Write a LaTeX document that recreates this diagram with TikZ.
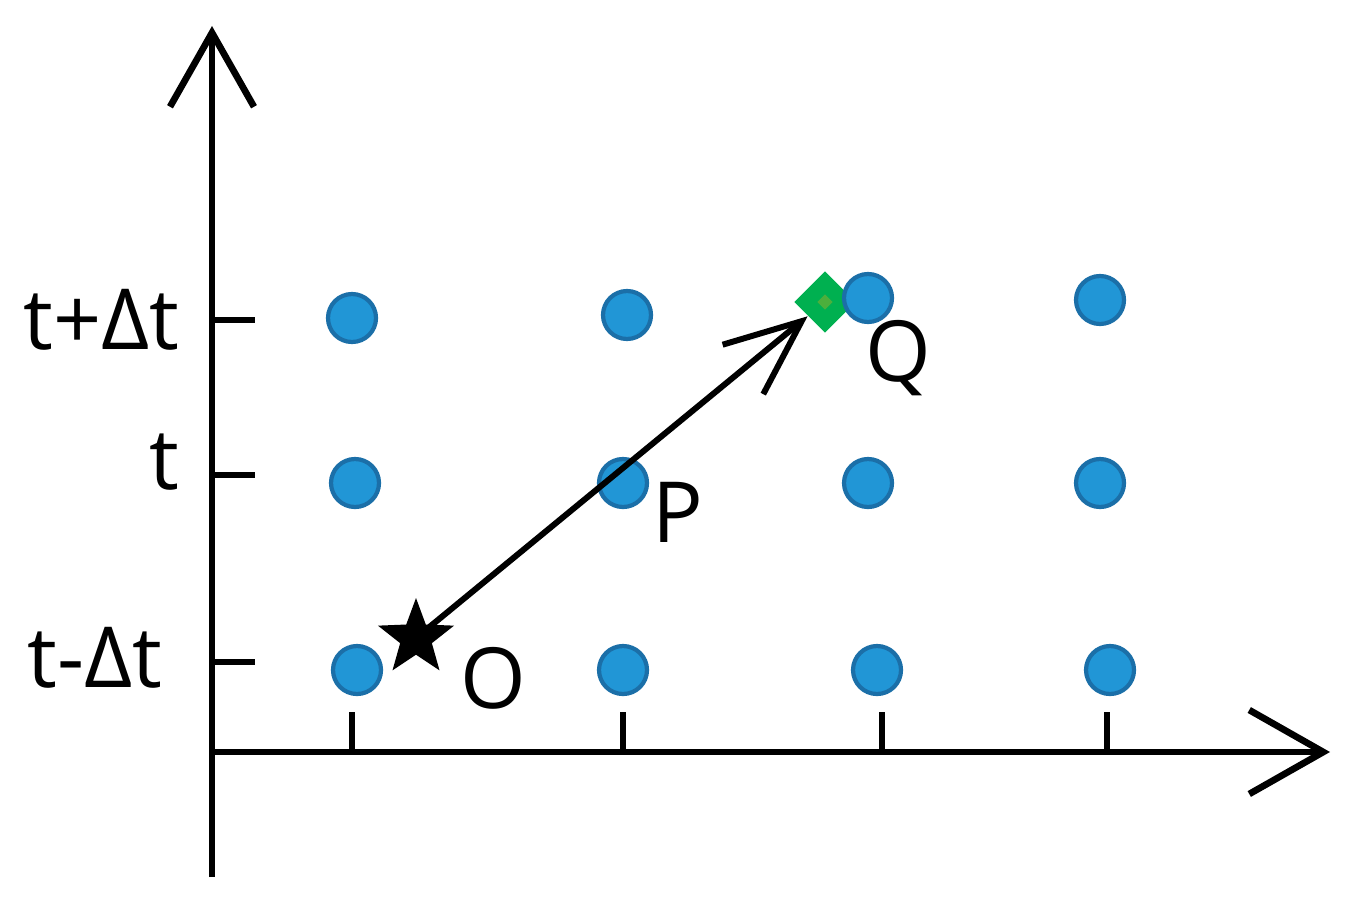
\documentclass[tikz,border=0pt]{standalone}
\usepackage{fontspec}
\setmainfont{Open Sans}
\usetikzlibrary{arrows.meta, shapes.geometric}
\definecolor{dotblue}{HTML}{2196D6}
\definecolor{dotedge}{HTML}{1B6FA8}
\definecolor{gemgreen}{HTML}{00B050}
\definecolor{gemcore}{HTML}{4CAF3C}
\tikzset{
  axisline/.style={line width=1.9pt, -{Straight Barb[length=7.4mm, width=8.4mm]}},
  tickmark/.style={line width=1.9pt},
  dot/.style={circle, fill=dotblue, draw=dotedge, line width=1.2pt, minimum size=4.8mm, inner sep=0pt},
  lbl/.style={font=\fontsize{24}{28}\selectfont, inner sep=0pt},
}
\begin{document}
\begin{tikzpicture}[x=0.1mm, y=-0.1mm, line join=round]
\useasboundingbox (0,0) rectangle (1351,903);

% Axes
\coordinate (origin) at (212,752);
\coordinate (ybottom) at (212,877);
\coordinate (ytop) at (212,26);
\coordinate (xleft) at (212,752);
\coordinate (xright) at (1330,752);
\draw[axisline] (ybottom) -- (ytop);
\draw[axisline] (xleft) -- (xright);

% Ticks on the time axis, with their labels
\foreach \ty in {320,475,662}
  \draw[tickmark] (212,\ty) -- (255,\ty);
\node[lbl, anchor=east] (tplus) at (180,320) {t+Δt};
\node[lbl, anchor=east] (tnow) at (180,462) {t};
\node[lbl, anchor=east] (tminus) at (163,658) {t-Δt};

% Ticks on the horizontal axis
\foreach \tx in {352,623,882,1107}
  \draw[tickmark] (\tx,712) -- (\tx,752);

% Target point
\node[diamond, aspect=1, fill=gemgreen, minimum size=6.2mm, inner sep=0pt] (gem) at (825,302) {};
\node[diamond, aspect=1, fill=gemcore, minimum size=1.6mm, inner sep=0pt] at (gem.center) {};

% Grid of samples
\foreach \name/\px/\py in {a1/352/318, a2/627/315, a3/868/298, a4/1100/300,
                           b1/355/483, b2/623/483, b3/868/483, b4/1100/483,
                           c1/357/670, c2/623/670, c3/877/670, c4/1110/670}
  \node[dot] (\name) at (\px,\py) {};

% Start point and displacement
\node[star, star points=5, star point ratio=2.4, fill=black, minimum size=8mm, inner sep=0pt] (start) at (416,638) {};
\draw[line width=1.7pt, -{Straight Barb[length=7.6mm, width=6.4mm]}] (start.center) -- (gem);

% Point names
\node[lbl] (labO) at (493,678) {O};
\node[lbl] (labP) at (678,512) {P};
\node[lbl] (labQ) at (898,358) {Q};
\end{tikzpicture}
\end{document}
